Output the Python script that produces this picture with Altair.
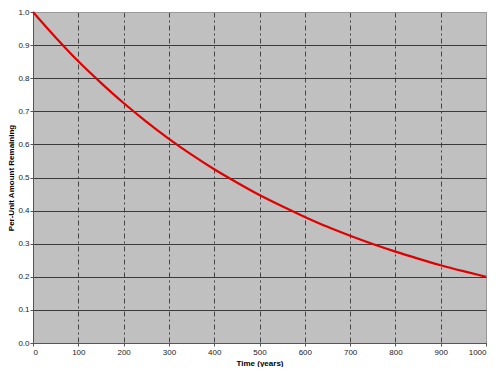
import altair as alt
import pandas as pd

years = [0, 50, 100, 150, 200, 250, 300, 350, 400, 450, 500, 550, 600, 650, 700, 750, 800, 850, 900, 950, 1000]
remaining = [1.0, 0.923, 0.851, 0.786, 0.725, 0.669, 0.617, 0.569, 0.525, 0.485, 0.447, 0.413, 0.381, 0.351, 0.324, 0.299, 0.276, 0.255, 0.235, 0.217, 0.2]
x_ticks = [0, 100, 200, 300, 400, 500, 600, 700, 800, 900, 1000]
y_ticks = [0.0, 0.1, 0.2, 0.3, 0.4, 0.5, 0.6, 0.7, 0.8, 0.9, 1.0]

df = pd.DataFrame({"t": years, "r": remaining})

chart = alt.Chart(df).mark_line(color="#e00000", strokeWidth=2.2, interpolate="monotone").encode(
    x=alt.X("t:Q", scale=alt.Scale(domain=[0, 1000], nice=False),
            axis=alt.Axis(values=x_ticks, title="Time (years)", format="d",
                          grid=True,
                          gridColor=alt.condition("datum.value == 1000", alt.value("#999999"), alt.value("#444444")),
                          gridDash=alt.condition("datum.value == 1000", alt.value([]), alt.value([5, 3, 2, 3])),
                          gridWidth=1,
                          domainColor="#555555", tickColor="#555555", tickSize=3,
                          labelFont="Liberation Sans", labelFontSize=8, labelColor="#222222",
                          titleFont="Liberation Sans", titleFontSize=8, titleFontWeight="bold",
                          titlePadding=3, labelPadding=2)),
    y=alt.Y("r:Q", scale=alt.Scale(domain=[0, 1], nice=False),
            axis=alt.Axis(values=y_ticks, title="Per-Unit Amount Remaining", format=".1f",
                          grid=True,
                          gridColor=alt.condition("datum.value == 1", alt.value("#999999"), alt.value("#3a3a3a")),
                          gridWidth=1,
                          domainColor="#555555", tickColor="#555555", tickSize=3,
                          labelFont="Liberation Sans", labelFontSize=8, labelColor="#222222",
                          titleFont="Liberation Sans", titleFontSize=8, titleFontWeight="bold",
                          titlePadding=2, labelPadding=1)),
).properties(
    width=453, height=331,
    autosize=alt.AutoSizeParams(type="none"),
    padding={"left": 25, "top": 4, "right": 6, "bottom": 24},
).configure_view(fill="#c0c0c0", stroke="#999999")

chart.save("out.html", embed_options={"renderer": "svg", "actions": False})
